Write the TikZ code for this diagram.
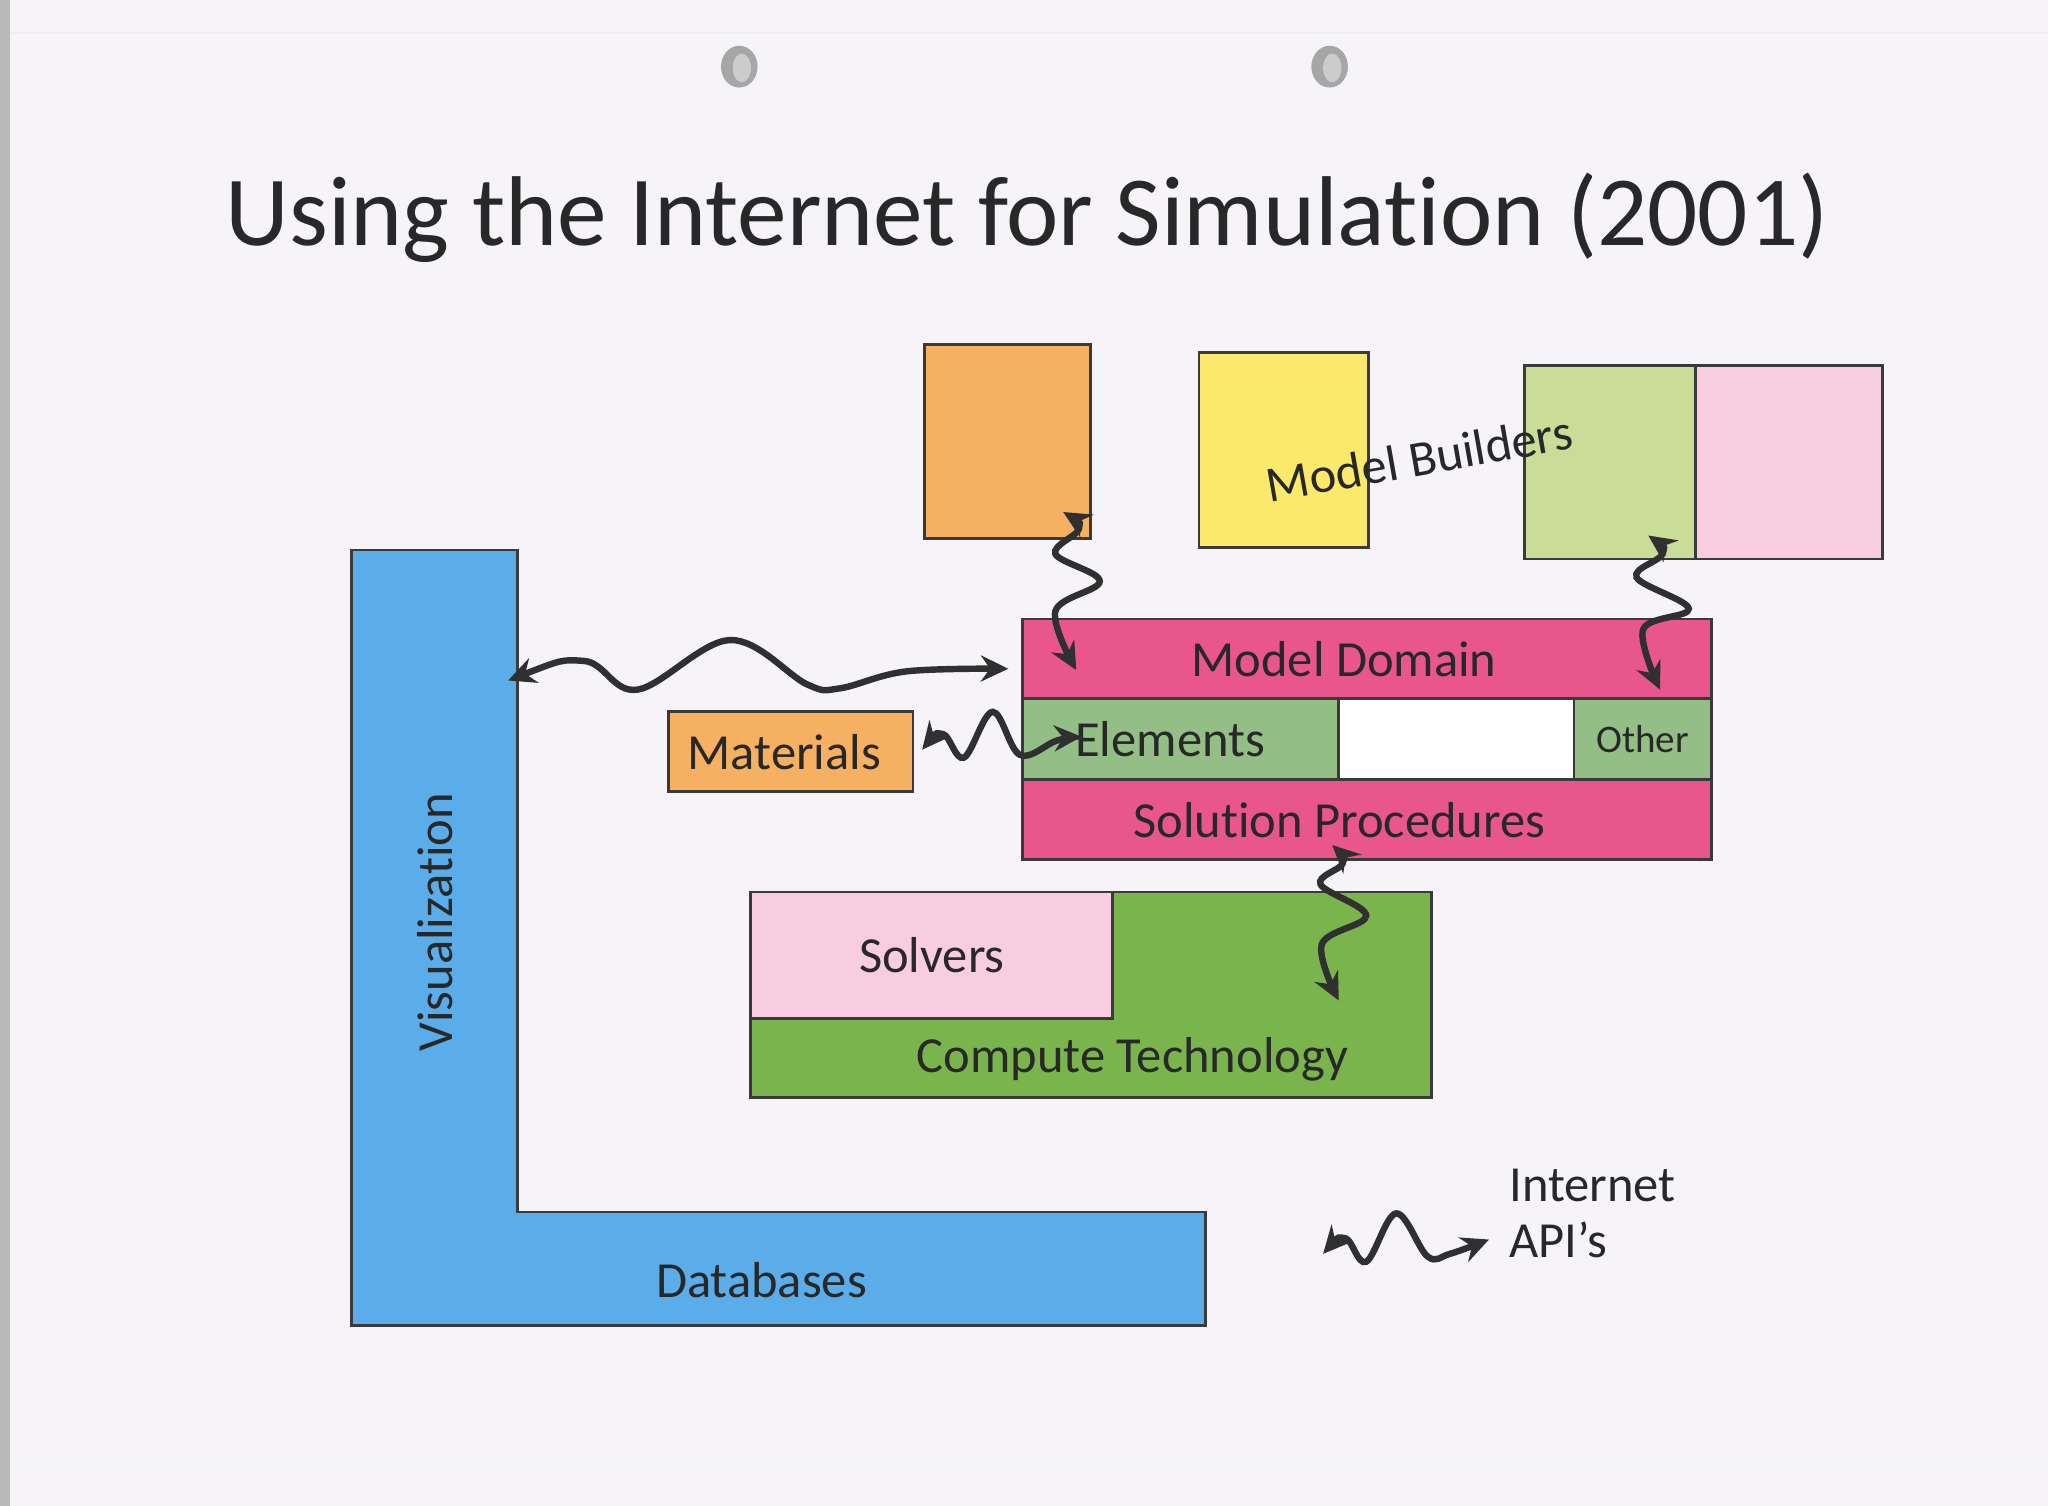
\documentclass[tikz,border=0pt]{standalone}
\usepackage{fontspec}
\setmainfont{Carlito}[Ligatures=NoCommon]
\usetikzlibrary{arrows.meta,positioning}

\definecolor{paper}{RGB}{247,244,249}
\definecolor{edge}{RGB}{58,58,58}
\definecolor{ink}{RGB}{40,40,40}
\definecolor{wire}{RGB}{48,48,48}
\definecolor{orng}{RGB}{246,176,98}
\definecolor{yllw}{RGB}{251,233,108}
\definecolor{lgrn}{RGB}{201,220,152}
\definecolor{lpnk}{RGB}{248,205,224}
\definecolor{mgnt}{RGB}{232,86,140}
\definecolor{mgrn}{RGB}{147,191,134}
\definecolor{cgrn}{RGB}{122,180,76}
\definecolor{vblu}{RGB}{90,173,232}

\begin{document}
\begin{tikzpicture}[x=0.01cm, y=-0.01cm, node distance=0pt,
    box/.style={draw=edge, line width=0.6pt, inner sep=0pt, outer sep=0pt, text=ink, font=\fontsize{11}{13}\selectfont},
    lbl/.style={text=ink, inner sep=0pt, font=\fontsize{11}{13}\selectfont},
    api/.style={draw=wire, line width=1.4pt, line cap=round, {Stealth[length=2.1mm,width=2mm,inset=0.7mm]}-{Stealth[length=2.1mm,width=2mm,inset=0.7mm]}}]
    % paper
    \fill[paper] (0,0) rectangle (1568,1153);
    \useasboundingbox (0,0) rectangle (1568,1153);
    \fill[gray!55] (0,0) rectangle (8,1153);
    \draw[black!7, line width=0.4pt] (8,25) -- (1568,25);
    \draw[black!4, line width=1pt] (8,1118) -- (1568,1118);
    \fill[gray!70] (566,51) ellipse [x radius=14, y radius=16];
    \fill[gray!40] (568,52) ellipse [x radius=7, y radius=11];
    \fill[gray!70] (1018,51) ellipse [x radius=14, y radius=16];
    \fill[gray!40] (1020,52) ellipse [x radius=7, y radius=11];

    \node[anchor=base west, lbl, font=\fontsize{21.6}{26}\selectfont] (title) at (172,188) {Using the Internet for Simulation (2001)};

    % model builders
    \node[box, fill=orng, minimum width=1.27cm, minimum height=1.48cm] (mbA) at (771.5,338) {};
    \node[box, fill=yllw, minimum width=1.30cm, minimum height=1.49cm] (mbB) at (983,344.5) {};
    \node[box, fill=lgrn, minimum width=1.31cm, minimum height=1.48cm] (mbC) at (1232.5,354) {};
    \node[box, fill=lpnk, minimum width=1.43cm, minimum height=1.48cm, right=of mbC] (mbD) {};
    \node[lbl, anchor=base, rotate=10] (mbtxt) at (1089,364) {Model Builders};

    % visualization / databases
    \draw[fill=vblu, draw=edge, line width=0.6pt] (269,421) -| (396,928) -| (923,1015) -| cycle;
    \node[lbl, rotate=90] (viz) at (333,706) {Visualization};
    \node[lbl] (db) at (583,980) {Databases};

    % model domain stack
    \node[box, fill=mgnt, minimum width=5.27cm, minimum height=0.61cm,
          label={[lbl, xshift=-0.175cm]center:Model Domain}] (dom) at (1046.5,504.5) {};
    \node[box, fill=mgrn, minimum width=2.42cm, minimum height=0.62cm, anchor=north west,
          label={[lbl, xshift=-0.08cm]center:Elements}] (elem) at (dom.south west) {};
    \node[box, fill=white, minimum width=1.80cm, minimum height=0.62cm, right=of elem] (gap) {};
    \node[box, fill=mgrn, minimum width=1.05cm, minimum height=0.62cm, right=of gap,
          font=\fontsize{8.5}{10}\selectfont] (other) {Other};
    \node[box, fill=mgnt, minimum width=5.27cm, minimum height=0.61cm, anchor=north west,
          label={[lbl, xshift=-0.21cm]center:Solution Procedures}] (sol) at (elem.south west) {};

    \node[box, fill=orng, minimum width=1.87cm, minimum height=0.61cm,
          label={[lbl, xshift=-0.05cm]center:Materials}] (mat) at (605.5,575.5) {};

    % compute technology
    \node[box, fill=cgrn, minimum width=5.21cm, minimum height=1.57cm,
          label={[lbl, xshift=0.315cm, yshift=-0.495cm]center:Compute Technology}] (comp) at (835.5,761.5) {};
    \node[box, fill=lpnk, minimum width=2.77cm, minimum height=0.97cm, anchor=north west] (solv) at (comp.north west) {Solvers};

    % internet api ends
    \coordinate (mbAend) at (814,392);
    \coordinate (domA) at (824,513);
    \coordinate (mbCend) at (1262,410);
    \coordinate (domC) at (1271,528);
    \coordinate (vizend) at (389,521);
    \coordinate (domL) at (772,512);
    \coordinate (matend) at (706,574);
    \coordinate (elemend) at (828,564);
    \coordinate (solend) at (1020,647);
    \coordinate (compend) at (1025,766);
    \coordinate (keyL) at (1013,960);
    \coordinate (keyR) at (1140,949);

    \path[api] plot[smooth, tension=0.6] coordinates {(mbAend) (826,405) (808,424) (842,445) (808,468) (domA)};
    \path[api] plot[smooth, tension=0.6] coordinates {(mbCend) (1273,424) (1253,442) (1293,466) (1258,482) (domC)};
    \path[api] plot[smooth, tension=0.6] coordinates {(vizend) (447,506) (488,528) (559,490) (618,524) (643,527) (694,514) (domL)};
    \path[api] plot[smooth, tension=0.6] coordinates {(matend) (722,562) (738,580) (760,545) (781,578) (809,567) (elemend)};
    \path[api] plot[smooth, tension=0.6] coordinates {(solend) (1028,661) (1011,677) (1046,701) (1012,723) (compend)};

    % key
    \path[api] plot[smooth, tension=0.6] coordinates {(keyL) (1030,948) (1046,966) (1069,929) (1093,962) (1110,960) (keyR)};
    \node[lbl, anchor=base west] (inet) at (1155,920) {Internet};
    \node[lbl, anchor=base west] (apis) at (1155,963) {API’s};
\end{tikzpicture}
\end{document}
